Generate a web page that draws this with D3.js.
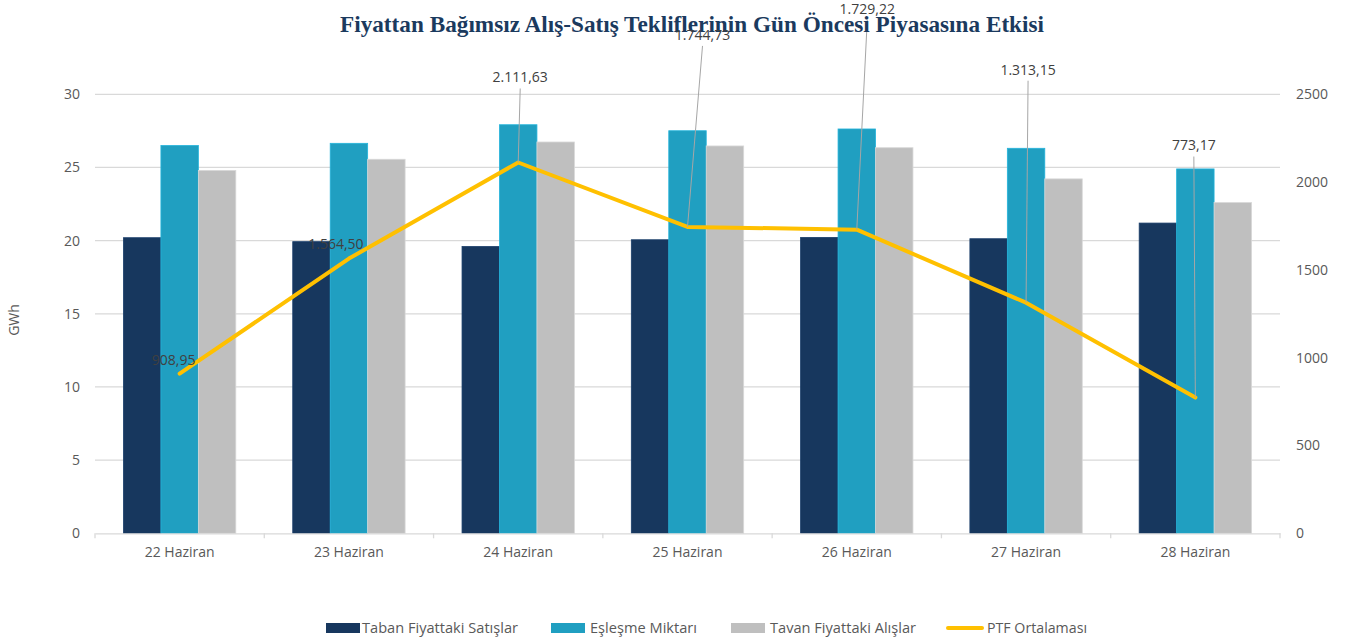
<!DOCTYPE html>
<html><head><meta charset="utf-8">
<script src="https://cdn.jsdelivr.net/npm/d3@7"></script>
<style>
html,body{margin:0;padding:0;background:#fff;}
svg{display:block;}
</style></head>
<body>
<svg id="chart" width="1346" height="642"></svg>
<script>
// ---- data ----
const categories = ["22 Haziran","23 Haziran","24 Haziran","25 Haziran","26 Haziran","27 Haziran","28 Haziran"];
const seriesNames = ["Taban Fiyattaki Satışlar","Eşleşme Miktarı","Tavan Fiyattaki Alışlar"];
const tabanSatis = [20.2, 19.93, 19.6, 20.06, 20.22, 20.13, 21.2];
const eslesme    = [26.5, 26.65, 27.92, 27.51, 27.63, 26.31, 24.9];
const tavanAlis  = [24.8, 25.56, 26.74, 26.47, 26.35, 24.22, 22.6];
const ptf        = [908.95, 1564.50, 2111.63, 1744.73, 1729.22, 1313.15, 773.17];
const lineName = "PTF Ortalaması";
const leftTicks = [0,5,10,15,20,25,30];
const rightTicks = [0,500,1000,1500,2000,2500];
const titleText = "Fiyattan Bağımsız Alış-Satış Tekliflerinin Gün Öncesi Piyasasına Etkisi";
const yLabel = "GWh";

// label placement (px offsets from point) and whether a leader line is drawn
const labelOffsets = [[-6,-14],[-13,-14],[2,-85],[15,-192],[10.5,-221],[2,-233],[-1.5,-252]];
const labelLeader = [false,false,true,true,true,true,true];

const colors = ["#17375E","#209FC1","#BFBFBF"];
const lineColor = "#FFC000";

const svg = d3.select("#chart");
const L = 95, R = 1280, T = 94.3, B = 533.3;

const x0 = d3.scaleBand().domain(categories).range([L,R]).paddingInner(0).paddingOuter(0);
const x1 = d3.scaleBand().domain(seriesNames).range([0,x0.bandwidth()]).paddingInner(0).paddingOuter(0.76);
const yL = d3.scaleLinear().domain([0,30]).range([B,T]);
const yR = d3.scaleLinear().domain([0,2500]).range([B,T]);

const fmt = d3.formatLocale({decimal:",",thousands:".",grouping:[3],currency:["",""]}).format(",.2f");

// gridlines
svg.append("g").attr("class","grid")
  .selectAll("line").data(leftTicks.filter(d=>d>0)).join("line")
  .attr("x1",L).attr("x2",R)
  .attr("y1",d=>yL(d)).attr("y2",d=>yL(d))
  .attr("stroke","#D9D9D9").attr("stroke-width",1.3);

// left axis
const axL = svg.append("g").attr("transform",`translate(${L},0)`)
  .call(d3.axisLeft(yL).tickValues(leftTicks).tickSize(0).tickPadding(15).tickFormat(d3.format("d")));
axL.select(".domain").remove();
axL.selectAll("text").attr("font-family","'Open Sans',sans-serif").attr("font-size",14).attr("fill","#595959");

// right axis
const axR = svg.append("g").attr("transform",`translate(${R},0)`)
  .call(d3.axisRight(yR).tickValues(rightTicks).tickSize(0).tickPadding(16).tickFormat(d3.format("d")));
axR.select(".domain").remove();
axR.selectAll("text").attr("font-family","'Open Sans',sans-serif").attr("font-size",14).attr("fill","#595959");

// bars
const data = categories.map((c,i)=>({c, vals:[tabanSatis[i],eslesme[i],tavanAlis[i]]}));
const grp = svg.append("g").selectAll("g").data(data).join("g")
  .attr("transform",d=>`translate(${x0(d.c)},0)`);
grp.selectAll("rect").data(d=>d.vals.map((v,j)=>({v,s:seriesNames[j],j}))).join("rect")
  .attr("x",d=>x1(d.s)).attr("width",x1.bandwidth())
  .attr("y",d=>yL(d.v)).attr("height",d=>yL(0)-yL(d.v))
  .attr("fill",d=>colors[d.j])
  .attr("stroke",d=>d3.color(colors[d.j]).brighter(0.35))
  .attr("stroke-width",0.8);

// bottom axis
const axB = svg.append("g").attr("transform",`translate(0,${B})`)
  .call(d3.axisBottom(x0).tickSize(0).tickPadding(14));
axB.select(".domain").attr("stroke","#D9D9D9").attr("stroke-width",1.3);
axB.selectAll("text").attr("font-family","'Open Sans',sans-serif").attr("font-size",14).attr("fill","#595959");
// category boundary ticks
const bounds = categories.map(c=>x0(c)).concat([x0(categories[categories.length-1])+x0.bandwidth()]);
svg.append("g").selectAll("line").data(bounds).join("line")
  .attr("x1",d=>d).attr("x2",d=>d).attr("y1",B).attr("y2",B+5)
  .attr("stroke","#D9D9D9").attr("stroke-width",1.3);

// line
const pts = ptf.map((v,i)=>[x0(categories[i])+x0.bandwidth()/2, yR(v)]);
svg.append("path").datum(ptf)
  .attr("fill","none").attr("stroke",lineColor).attr("stroke-width",4)
  .attr("stroke-linejoin","round").attr("stroke-linecap","round")
  .attr("d",d3.line().x((d,i)=>x0(categories[i])+x0.bandwidth()/2).y(d=>yR(d)));

// leader lines
svg.append("g").selectAll("line").data(ptf.map((v,i)=>i).filter(i=>labelLeader[i])).join("line")
  .attr("x1",i=>pts[i][0]+labelOffsets[i][0]).attr("y1",i=>pts[i][1]+labelOffsets[i][1]+11)
  .attr("x2",i=>pts[i][0]).attr("y2",i=>pts[i][1])
  .attr("stroke","#A6A6A6").attr("stroke-width",1);

// title
svg.append("text").attr("x",692).attr("y",31.5).attr("text-anchor","middle")
  .attr("font-family","'Liberation Serif','DejaVu Serif',serif").attr("font-weight","bold")
  .attr("font-size",23).attr("fill","#1B3A5E")
  .attr("textLength",704).attr("lengthAdjust","spacingAndGlyphs")
  .text(titleText);

// data labels
svg.append("g").selectAll("text").data(ptf).join("text")
  .attr("x",(d,i)=>pts[i][0]+labelOffsets[i][0])
  .attr("y",(d,i)=>pts[i][1]+labelOffsets[i][1])
  .attr("dy","0.35em").attr("text-anchor","middle")
  .attr("font-family","'Open Sans',sans-serif").attr("font-size",14).attr("fill","#404040")
  .text(d=>fmt(d));

// y label
svg.append("text").attr("transform","translate(19,320) rotate(-90)")
  .attr("text-anchor","middle").attr("font-family","'Open Sans',sans-serif")
  .attr("font-size",14).attr("fill","#595959").text(yLabel);

// legend
const legendItems = [
  {name:seriesNames[0], color:colors[0], type:"rect", x:326, tx:362, w:156},
  {name:seriesNames[1], color:colors[1], type:"rect", x:551, tx:590, w:107},
  {name:seriesNames[2], color:colors[2], type:"rect", x:731, tx:770, w:146},
  {name:lineName, color:lineColor, type:"line", x:946, tx:987, w:100}
];
const lg = svg.append("g");
legendItems.forEach(it=>{
  if(it.type==="rect"){
    lg.append("rect").attr("x",it.x).attr("y",623).attr("width",34).attr("height",10).attr("fill",it.color);
  } else {
    lg.append("line").attr("x1",it.x+2).attr("x2",it.x+36).attr("y1",628).attr("y2",628)
      .attr("stroke",it.color).attr("stroke-width",4).attr("stroke-linecap","round");
  }
  lg.append("text").attr("x",it.tx).attr("y",628).attr("dy","0.35em")
    .attr("font-family","'Open Sans',sans-serif").attr("font-size",14.5).attr("fill","#595959")
    .attr("textLength",it.w).attr("lengthAdjust","spacingAndGlyphs")
    .text(it.name);
});
</script>
</body></html>
